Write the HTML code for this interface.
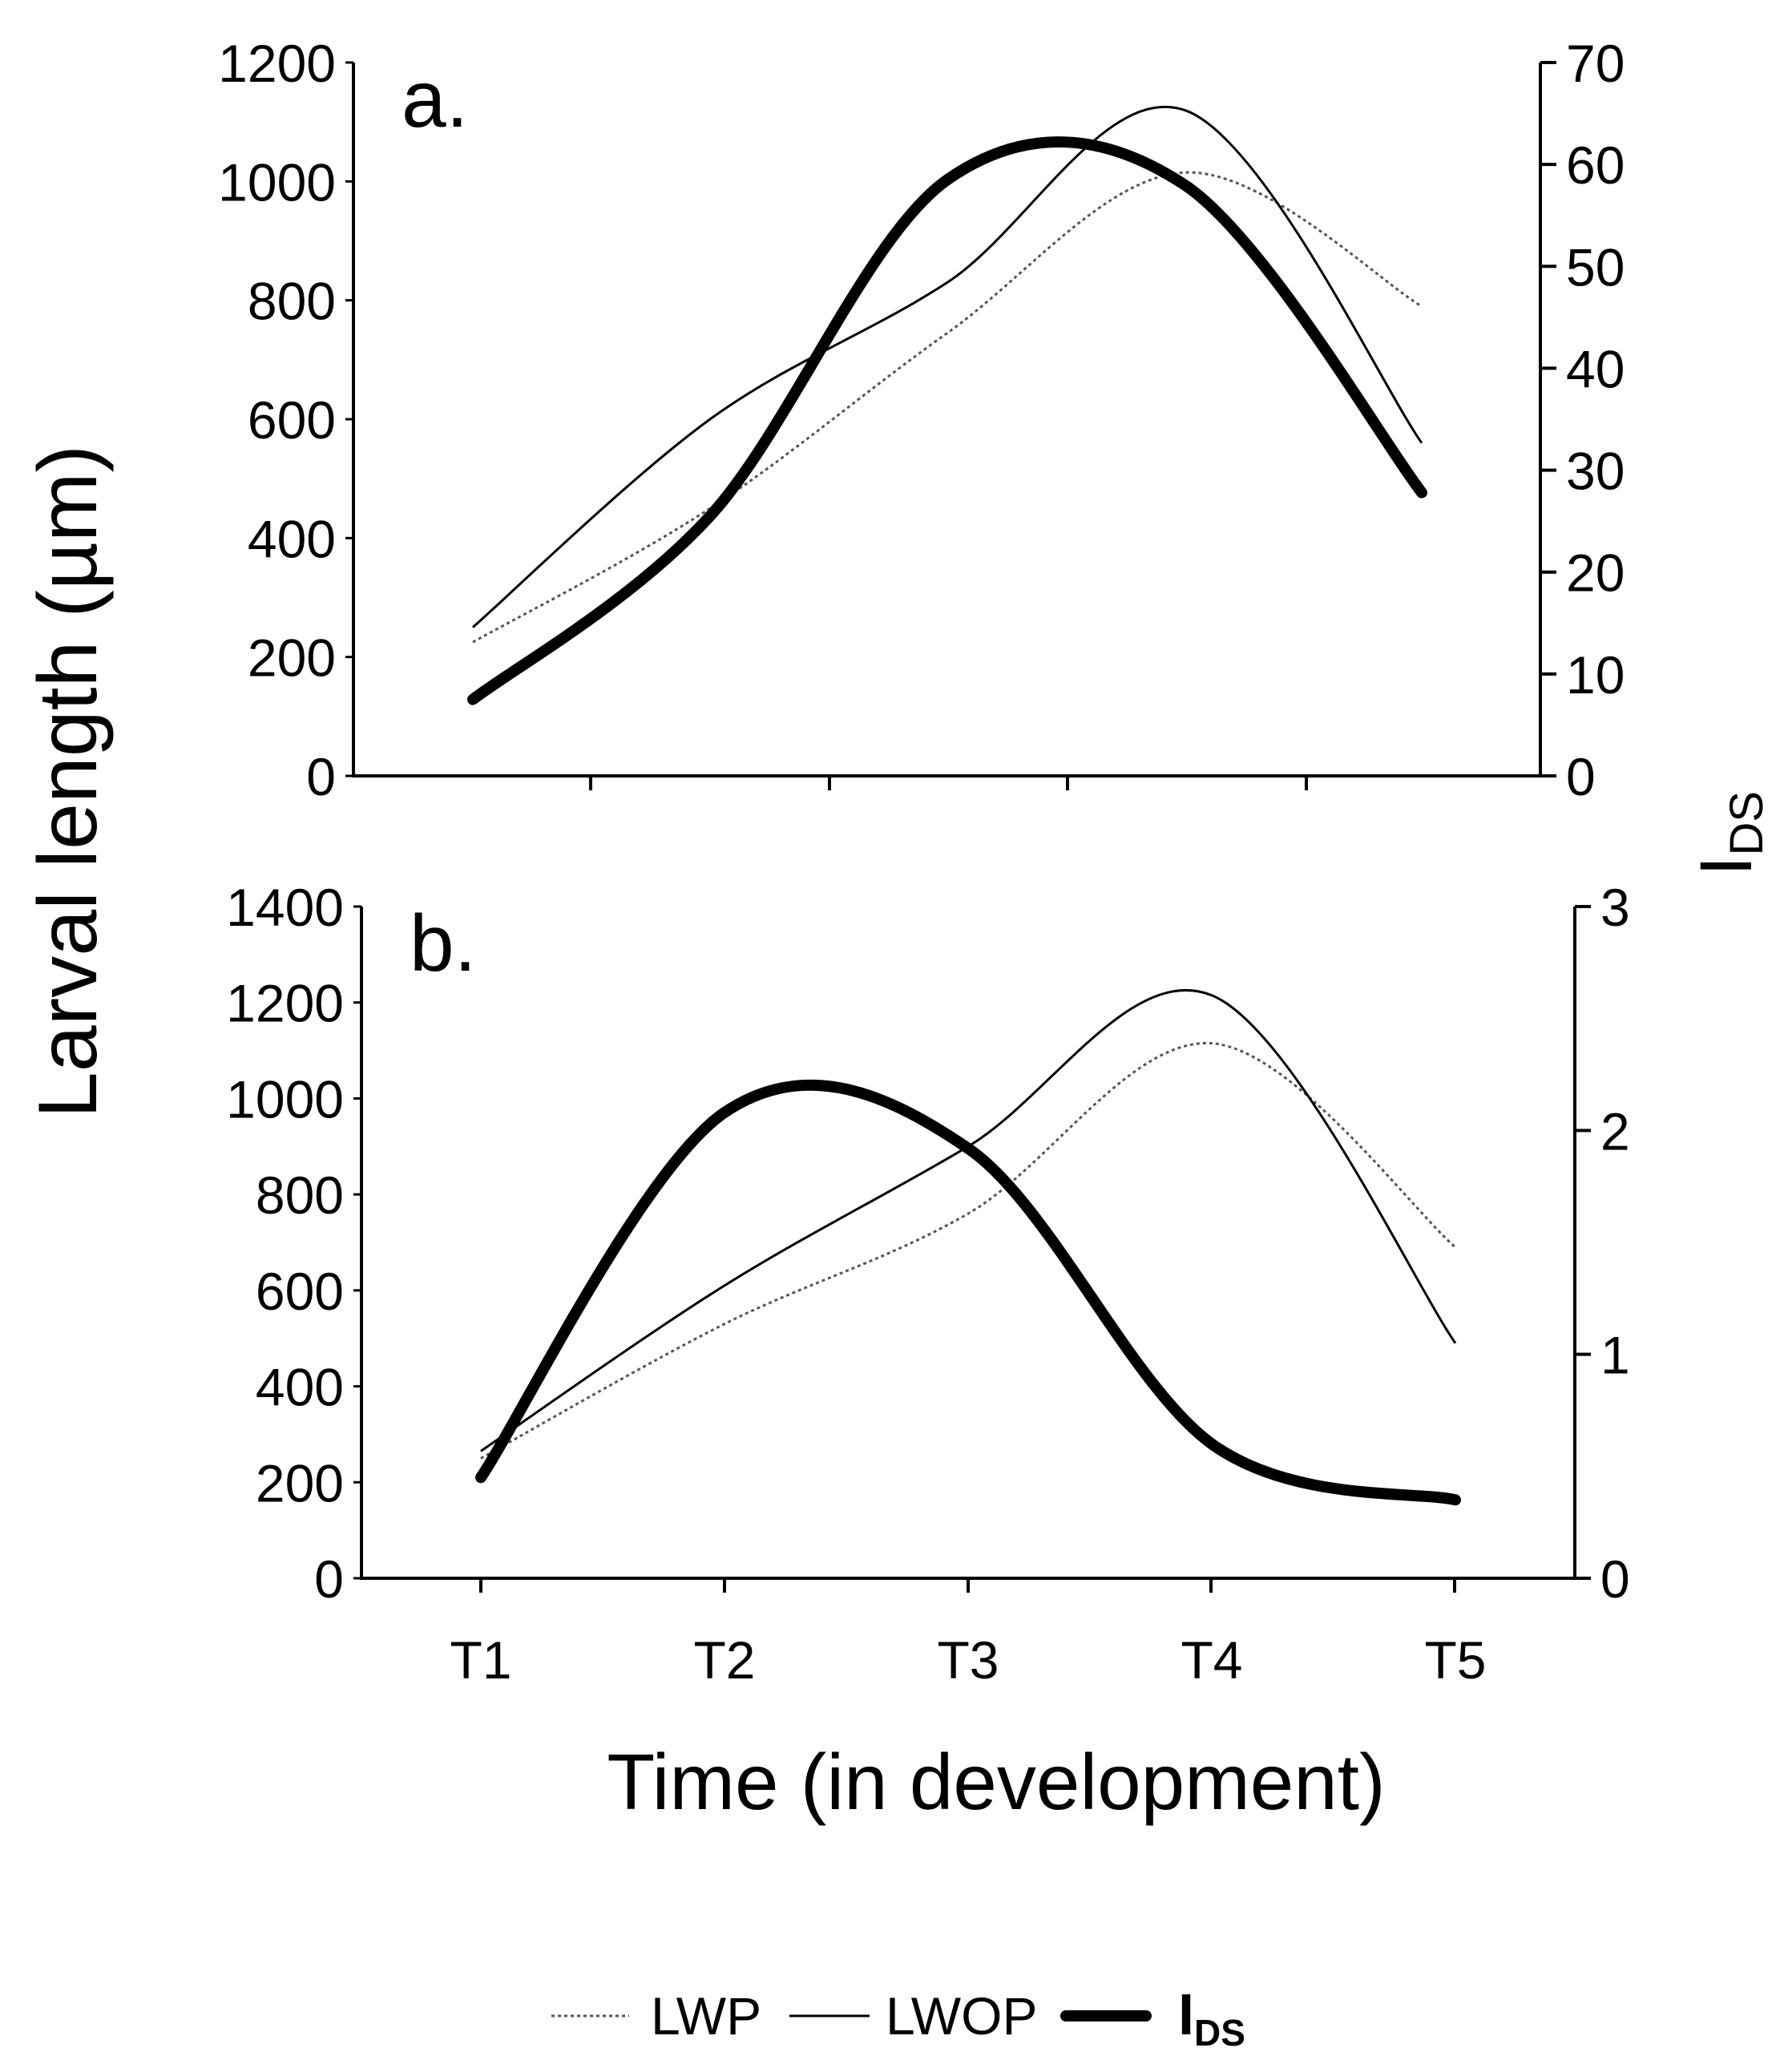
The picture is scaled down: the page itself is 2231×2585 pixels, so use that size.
<!DOCTYPE html>
<html><head><meta charset="utf-8"><style>
body{margin:0;background:#fff}
svg text{font-family:"Liberation Sans",Arial,sans-serif;fill:#000}
</style></head><body>
<svg id="chart" width="2231" height="2580" viewBox="0 0 2231 2580" xmlns="http://www.w3.org/2000/svg">
<g id="pa"></g>
<g id="pb"></g>
<text x="120" y="975" font-size="104" text-anchor="middle" transform="rotate(-90 120 975)">Larval length (µm)</text>
<text x="2185" y="1040" font-size="92" transform="rotate(-90 2185 1040)" text-anchor="middle">I<tspan font-size="58" dy="14">DS</tspan></text>
<text x="1243" y="2257" font-size="98" text-anchor="middle">Time (in development)</text>
<g>
<line x1="688" y1="2515" x2="785" y2="2515" stroke="#555" stroke-width="3" stroke-dasharray="4,4"/>
<text x="812" y="2538" font-size="66">LWP</text>
<line x1="985" y1="2515" x2="1085" y2="2515" stroke="#000" stroke-width="3"/>
<text x="1105" y="2538" font-size="66">LWOP</text>
<line x1="1330" y1="2515" x2="1430" y2="2515" stroke="#000" stroke-width="14" stroke-linecap="round"/>
<text x="1470" y="2538" font-size="72" font-weight="bold">I<tspan font-size="46" dy="14">DS</tspan></text>
</g>
</svg>
<script>
const categories=["T1","T2","T3","T4","T5"];
const aLWP=[225,450,745,1015,790];
const aLWOP=[250,600,830,1120,560];
const aIDS=[7.5,25.5,58.5,58,27.8];
const aLeftTicks=[0,200,400,600,800,1000,1200];
const aRightTicks=[0,10,20,30,40,50,60,70];
const bLWP=[250,530,760,1115,690];
const bLWOP=[265,610,900,1215,490];
const bIDS=[0.45,2.08,1.92,0.6,0.35];
const bLeftTicks=[0,200,400,600,800,1000,1200,1400];
const bRightTicks=[0,1,2,3];
const NS="http://www.w3.org/2000/svg";
function mk(p,t,a){const e=document.createElementNS(NS,t);for(const k in a)e.setAttribute(k,a[k]);p.appendChild(e);return e;}
function spline(pts){let d="M"+pts[0][0]+","+pts[0][1];for(let i=0;i<pts.length-1;i++){const p0=pts[Math.max(0,i-1)],p1=pts[i],p2=pts[i+1],p3=pts[Math.min(pts.length-1,i+2)];const c1=[p1[0]+(p2[0]-p0[0])/6,p1[1]+(p2[1]-p0[1])/6],c2=[p2[0]-(p3[0]-p1[0])/6,p2[1]-(p3[1]-p1[1])/6];d+=" C"+c1+" "+c2+" "+p2;}return d;}
function panel(g,cfg){
 const {xL,xR,yT,yB,lMax,rMax,lt,rt,lwp,lwop,ids,label,tx,catLabels,btick}=cfg;
 const yl=v=>yB-(v/lMax)*(yB-yT), yr=v=>yB-(v/rMax)*(yB-yT), x=i=>tx[0]+i*(tx[1]-tx[0]);
 let e=mk(g,"path",{d:`M${xL},${yT} V${yB} H${xR} V${yT}`,fill:"none",stroke:"#000","stroke-width":4});
 
 lt.forEach(v=>{const t=mk(g,"text",{x:xL-22,y:yl(v)+24,"font-size":66,"text-anchor":"end"});t.textContent=v;
  
  const l=mk(g,"line",{x1:xL-10,x2:xL,y1:yl(v),y2:yl(v),stroke:"#000","stroke-width":3});
  });
 rt.forEach(v=>{const t=mk(g,"text",{x:xR+32,y:yr(v)+24,"font-size":66});t.textContent=v;
  
  const l=mk(g,"line",{x1:xR,x2:xR+20,y1:yr(v),y2:yr(v),stroke:"#000","stroke-width":4});
  });
 btick.forEach(bx=>{const l=mk(g,"line",{x1:bx,x2:bx,y1:yB,y2:yB+18,stroke:"#000","stroke-width":4});
  });
 if(catLabels)categories.forEach((c,i)=>{const t=mk(g,"text",{x:x(i),y:yB+125,"font-size":66,"text-anchor":"middle"});t.textContent=c;
  });
 const lab=mk(g,"text",{x:xL+60,y:yT+80,"font-size":100});lab.textContent=label;
 
 let p=mk(g,"path",{d:spline(lwp.map((v,i)=>[x(i),yl(v)])),fill:"none",stroke:"#555","stroke-width":3,"stroke-dasharray":"4,4"});
 
 p=mk(g,"path",{d:spline(lwop.map((v,i)=>[x(i),yl(v)])),fill:"none",stroke:"#000","stroke-width":3});
 
 p=mk(g,"path",{d:spline(ids.map((v,i)=>[x(i),yr(v)])),fill:"none",stroke:"#000","stroke-width":14,"stroke-linecap":"round"});
 
}
panel(document.getElementById("pa"),{xL:441,xR:1922,yT:78,yB:968,lMax:1200,rMax:70,lt:aLeftTicks,rt:aRightTicks,lwp:aLWP,lwop:aLWOP,ids:aIDS,label:"a.",tx:[590,886],catLabels:false,btick:[737,1035,1332,1630]});
panel(document.getElementById("pb"),{xL:451,xR:1965,yT:1131,yB:1969,lMax:1400,rMax:3,lt:bLeftTicks,rt:bRightTicks,lwp:bLWP,lwop:bLWOP,ids:bIDS,label:"b.",tx:[600,904],catLabels:true,btick:[600,904,1208,1511,1815]});
</script>
</body></html>
